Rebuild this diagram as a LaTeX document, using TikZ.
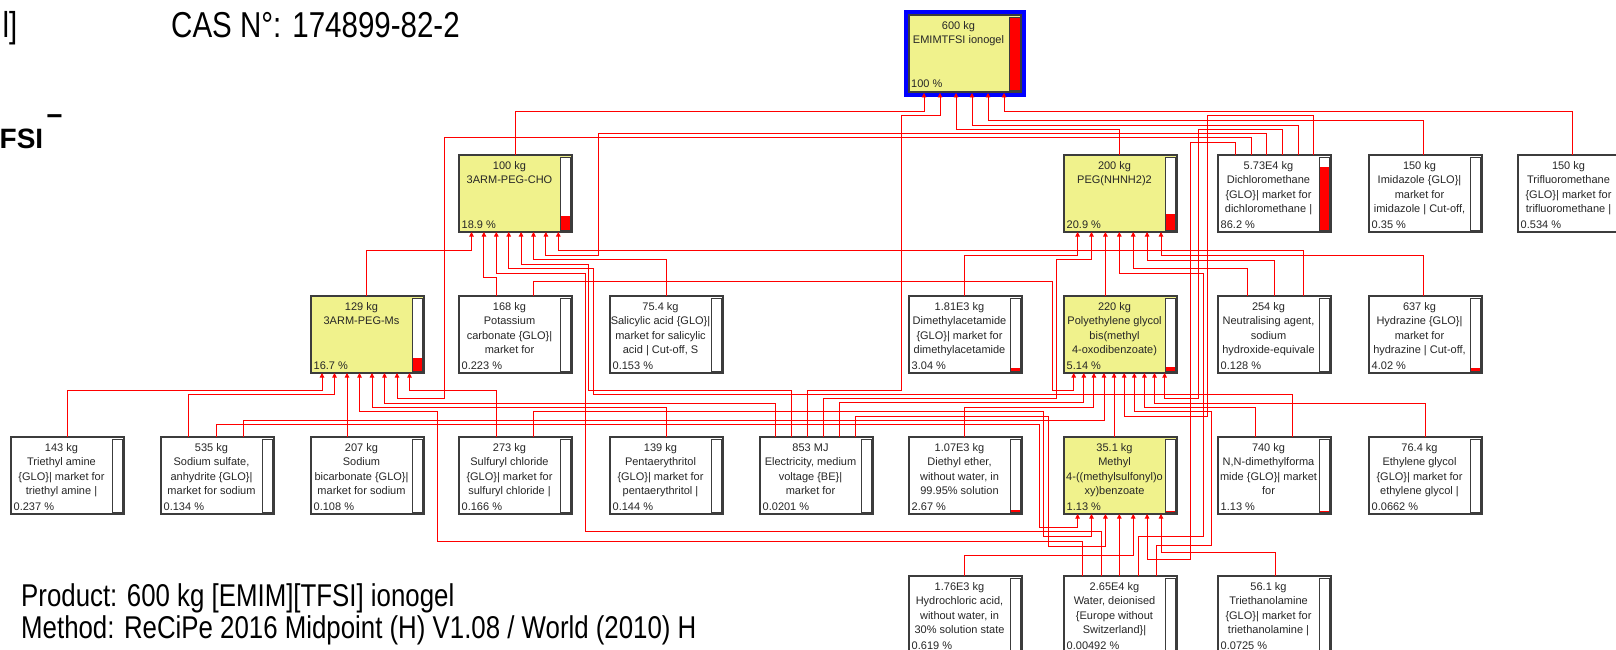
\documentclass[tikz,border=0pt]{standalone}
\usepackage{fontspec}
\setmainfont{Liberation Sans}
\newfontfamily\narrowfont[FakeStretch=0.82]{Liberation Sans}
\usetikzlibrary{arrows.meta,calc}
\definecolor{boxyellow}{RGB}{240,242,140}
\definecolor{boxedge}{RGB}{60,60,60}
\definecolor{linkred}{RGB}{255,0,0}
\definecolor{emimblue}{RGB}{0,0,255}
\tikzset{
  procbox/.style={draw=boxedge, line width=1.2pt, minimum width=113pt, minimum height=77pt, inner sep=0pt, outer sep=0pt},
  barframe/.style={draw=boxedge, line width=0.9pt, fill=white},
  boxtext/.style={anchor=north, inner sep=0pt, align=center, text=black!85, font=\fontsize{11}{14.5}\selectfont},
  pcttext/.style={anchor=base west, inner sep=0pt, text=black!85, font=\fontsize{11}{13}\selectfont},
  link/.style={draw=linkred, line width=0.9pt, -{Triangle[length=4.5pt,width=4.5pt]}},
  bigtext/.style={inner sep=0pt, font=\narrowfont\fontsize{36}{40}\selectfont}
}
% name, x, y, text, pct, fraction, fill
\newcommand{\procnode}[7]{%
  \node[procbox, fill=#7, anchor=north west] (#1) at (#2,#3) {};
  \draw[barframe] ({#2+101},{#3+2}) rectangle ({#2+111},{#3+75});
  \pgfmathsetmacro{\barh}{#6*72}%
  \ifdim\barh pt>0.4pt
    \fill[red] ({#2+101.5},{#3+74.5}) rectangle ({#2+110.5},{#3+74.5-\barh});
  \fi
  \node[boxtext] at ({#2+50.5},{#3+5}) {\rule{0pt}{9pt}#4};
  \node[pcttext] at ({#2+2.5},{#3+73}) {#5};
}
\newcommand{\lnk}[5]{\draw[link] ($(#1.north west)+(#2,0)$) #3 -- ($(#4.south west)+(#5)$);}
\begin{document}
\begin{tikzpicture}[x=1pt,y=-1pt]
\useasboundingbox (0,0) rectangle (1616,650);
\fill[white] (0,0) rectangle (1616,650);
\clip (0,0) rectangle (1616,650);

% header and footer texts
\node[bigtext, anchor=base east] (hdA) at (17.5,38) {l]};
\node[bigtext, anchor=base west] (hdCAS) at (171,38) {CAS N°: 174899-82-2};
\node[inner sep=0pt, anchor=base west, font=\bfseries\fontsize{28}{30}\selectfont] (hdFSI) at (-0.5,148) {FSI};
\node[inner sep=0pt, anchor=base, font=\bfseries\fontsize{28}{30}\selectfont] (hdMinus) at (54.5,126) {−};
\node[inner sep=0pt, anchor=base west, font=\narrowfont\fontsize{31.5}{34}\selectfont] (ftA) at (21,606) {Product: 600 kg [EMIM][TFSI] ionogel};
\node[inner sep=0pt, anchor=base west, font=\narrowfont\fontsize{31.5}{34}\selectfont] (ftB) at (21,638) {Method: ReCiPe 2016 Midpoint (H) V1.08 / World (2010) H};

% top product
\node[fill=emimblue, minimum width=122pt, minimum height=87pt, inner sep=0pt, outer sep=0pt, anchor=north west] (EMIM) at (904,10) {};
\node[procbox, fill=boxyellow, minimum width=112pt, minimum height=77pt, anchor=north west] (EMIMin) at (909,15) {};
\draw[barframe, fill=red] (1009,17) rectangle (1020,90);
\node[boxtext] (EMIMt) at (958.5,20) {\rule{0pt}{9pt}600 kg\\EMIMTFSI ionogel};
\node[pcttext] (EMIMp) at (911,88) {100 \%};

% level 1
\procnode{CHO}{459}{155}{100 kg\\3ARM-PEG-CHO}{18.9 \%}{0.189}{boxyellow}
\procnode{PEG}{1064}{155}{200 kg\\PEG(NHNH2)2}{20.9 \%}{0.209}{boxyellow}
\procnode{DCM}{1218}{155}{5.73E4 kg\\Dichloromethane\\\{GLO\}| market for\\dichloromethane |}{86.2 \%}{0.862}{white}
\procnode{Imid}{1369}{155}{150 kg\\Imidazole \{GLO\}|\\market for\\imidazole | Cut-off,}{0.35 \%}{0.0035}{white}
\procnode{Trif}{1518}{155}{150 kg\\Trifluoromethane\\\{GLO\}| market for\\trifluoromethane |}{0.534 \%}{0.00534}{white}
% level 2
\procnode{Ms}{311}{296}{129 kg\\3ARM-PEG-Ms}{16.7 \%}{0.167}{boxyellow}
\procnode{Kcarb}{459}{296}{168 kg\\Potassium\\carbonate \{GLO\}|\\market for}{0.223 \%}{0.00223}{white}
\procnode{Sal}{610}{296}{75.4 kg\\Salicylic acid \{GLO\}|\\market for salicylic\\acid | Cut-off, S}{0.153 \%}{0.00153}{white}
\procnode{DMAc}{909}{296}{1.81E3 kg\\Dimethylacetamide\\\{GLO\}| market for\\dimethylacetamide}{3.04 \%}{0.0304}{white}
\procnode{PEGbis}{1064}{296}{220 kg\\Polyethylene glycol\\bis(methyl\\4-oxodibenzoate)}{5.14 \%}{0.0514}{boxyellow}
\procnode{Neutr}{1218}{296}{254 kg\\Neutralising agent,\\sodium\\hydroxide-equivale}{0.128 \%}{0.00128}{white}
\procnode{Hydr}{1369}{296}{637 kg\\Hydrazine \{GLO\}|\\market for\\hydrazine | Cut-off,}{4.02 \%}{0.0402}{white}
% level 3
\procnode{TEA}{11}{437}{143 kg\\Triethyl amine\\\{GLO\}| market for\\triethyl amine |}{0.237 \%}{0.00237}{white}
\procnode{NaSulf}{161}{437}{535 kg\\Sodium sulfate,\\anhydrite \{GLO\}|\\market for sodium}{0.134 \%}{0.00134}{white}
\procnode{NaBic}{311}{437}{207 kg\\Sodium\\bicarbonate \{GLO\}|\\market for sodium}{0.108 \%}{0.00108}{white}
\procnode{SOCl}{459}{437}{273 kg\\Sulfuryl chloride\\\{GLO\}| market for\\sulfuryl chloride |}{0.166 \%}{0.00166}{white}
\procnode{Penta}{610}{437}{139 kg\\Pentaerythritol\\\{GLO\}| market for\\pentaerythritol |}{0.144 \%}{0.00144}{white}
\procnode{Elec}{760}{437}{853 MJ\\Electricity, medium\\voltage \{BE\}|\\market for}{0.0201 \%}{0.000201}{white}
\procnode{Et2O}{909}{437}{1.07E3 kg\\Diethyl ether,\\without water, in\\99.95\% solution}{2.67 \%}{0.0267}{white}
\procnode{Methyl}{1064}{437}{35.1 kg\\Methyl\\4-((methylsulfonyl)o\\xy)benzoate}{1.13 \%}{0.0113}{boxyellow}
\procnode{DMF}{1218}{437}{740 kg\\N,N-dimethylforma\\mide \{GLO\}| market\\for}{1.13 \%}{0.0113}{white}
\procnode{EG}{1369}{437}{76.4 kg\\Ethylene glycol\\\{GLO\}| market for\\ethylene glycol |}{0.0662 \%}{0.000662}{white}
% level 4
\procnode{HCl}{909}{576}{1.76E3 kg\\Hydrochloric acid,\\without water, in\\30\% solution state}{0.619 \%}{0.00619}{white}
\procnode{Water}{1064}{576}{2.65E4 kg\\Water, deionised\\\{Europe without\\Switzerland\}|}{0.00492 \%}{0.0000492}{white}
\procnode{TEAol}{1218}{576}{56.1 kg\\Triethanolamine\\\{GLO\}| market for\\triethanolamine |}{0.0725 \%}{0.000725}{white}

% ---- connectors into EMIMTFSI ionogel
\lnk{CHO}{56}{|- (924,111)}{EMIM}{20,-4}
\lnk{Elec}{47.5}{|- (901,390) |- (940,115.7)}{EMIM}{36,-4}
\lnk{PEG}{55}{|- (956,129.3)}{EMIM}{52,-4}
\lnk{DCM}{80}{|- (972,125)}{EMIM}{68,-4}
\lnk{Imid}{54.5}{|- (988,120)}{EMIM}{84,-4}
\lnk{Trif}{54.5}{|- (1004,111)}{EMIM}{100,-4}
% ---- into 3ARM-PEG-CHO
\lnk{Ms}{55}{|- (471.5,250.3)}{CHO}{12.5,0}
\lnk{Kcarb}{37.5}{|- (483.9,277.7)}{CHO}{24.9,0}
\lnk{Water}{37.3}{|- (585,531.7) |- (496.3,273.3)}{CHO}{37.3,0}
\lnk{DMF}{74.8}{|- (593.5,394) |- (508.7,268.3)}{CHO}{49.7,0}
\lnk{Elec}{31.5}{|- (588.5,390) |- (521.1,264.3)}{CHO}{62.1,0}
\lnk{Sal}{56}{|- (533.5,259.3)}{CHO}{74.5,0}
\lnk{DCM}{48.7}{|- (598.5,133.7) |- (545.9,255)}{CHO}{86.9,0}
\lnk{Neutr}{85}{|- (558.3,250.3)}{CHO}{99.3,0}
% ---- into PEG(NHNH2)2
\lnk{DMAc}{55}{|- (1077.6,255)}{PEG}{13.6,0}
\lnk{Elec}{63.5}{|- (1056,398) |- (1091.5,259.3)}{PEG}{27.5,0}
\lnk{PEGbis}{41.4}{}{PEG}{41.4,0}
\lnk{Water}{74.3}{|- (1203,536.7) |- (1119.3,273.3)}{PEG}{55.3,0}
\lnk{Neutr}{29}{|- (1133.2,268.3)}{PEG}{69.2,0}
\lnk{Neutr}{56.5}{|- (1147.1,260)}{PEG}{83.1,0}
\lnk{Hydr}{54.5}{|- (1161,255)}{PEG}{97,0}
% ---- into 3ARM-PEG-Ms
\lnk{TEA}{56}{|- (322,390)}{Ms}{11,0}
\lnk{NaSulf}{27.6}{|- (334.5,394)}{Ms}{23.5,0}
\lnk{NaBic}{36}{}{Ms}{36,0}
\lnk{Water}{18.7}{|- (437.8,541) |- (359.5,411.7)}{Ms}{48.5,0}
\lnk{Penta}{56}{|- (372,407)}{Ms}{61,0}
\lnk{Elec}{15.4}{|- (384.5,403)}{Ms}{73.5,0}
\lnk{DCM}{33}{|- (444,137.7) |- (397,398)}{Ms}{86,0}
\lnk{SOCl}{37.5}{|- (409.5,390)}{Ms}{98.5,0}
% ---- into Polyethylene glycol bis(...)
\lnk{Kcarb}{74}{|- (1052,281.7) |- (1073.7,390)}{PEGbis}{9.7,0}
\lnk{Elec}{79.5}{|- (1083.8,402)}{PEGbis}{19.8,0}
\lnk{Et2O}{55}{|- (1093.9,407)}{PEGbis}{29.9,0}
\lnk{NaSulf}{82.5}{|- (1104,420)}{PEGbis}{40,0}
\lnk{Methyl}{50.1}{}{PEGbis}{50.1,0}
\lnk{DCM}{95.7}{|- (1207,115.7) |- (1124.2,416)}{PEGbis}{60.2,0}
\lnk{Water}{92.7}{|- (1211,545.7) |- (1134.3,411.7)}{PEGbis}{70.3,0}
\lnk{DMF}{37.6}{|- (1144.4,407)}{PEGbis}{80.4,0}
\lnk{EG}{56}{|- (1154.5,403)}{PEGbis}{90.5,0}
\lnk{DCM}{64.4}{|- (1198,129.3) |- (1164.6,398)}{PEGbis}{100.6,0}
% ---- into Methyl 4-((methylsulfonyl)oxy)benzoate
\lnk{NaSulf}{55.5}{|- (1039,424) |- (1077.6,527)}{Methyl}{13.6,0}
\lnk{SOCl}{74}{|- (1043,411.7) |- (1091.5,536.7)}{Methyl}{27.5,0}
\lnk{Elec}{95.6}{|- (1048,416) |- (1105.4,546)}{Methyl}{41.4,0}
\lnk{Water}{55.3}{}{Methyl}{55.3,0}
\lnk{HCl}{55}{|- (1133.2,555)}{Methyl}{69.2,0}
\lnk{DCM}{17.3}{|- (1190,142) |- (1147.1,559)}{Methyl}{83.1,0}
\lnk{TEAol}{57}{|- (1161,552)}{Methyl}{97,0}
\end{tikzpicture}
\end{document}
